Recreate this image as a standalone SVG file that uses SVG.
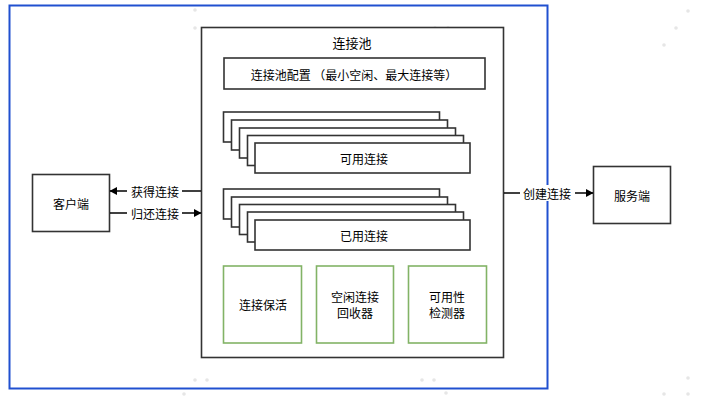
<svg xmlns="http://www.w3.org/2000/svg" width="710" height="408" viewBox="0 0 710 408">
<defs>
<style>
text{font-family:"Noto Sans CJK SC","Noto Sans",sans-serif;font-size:12px;fill:#000;text-anchor:middle;dominant-baseline:central}
.box{fill:#fff;stroke:#333;stroke-width:1.6}
.green{fill:#fff;stroke:#82b366;stroke-width:1.6}
.ln{stroke:#000;stroke-width:1.4;fill:none}
.dot{fill:#e6e6e6}
</style>
<marker id="ah" markerWidth="9" markerHeight="9" refX="7" refY="4.5" orient="auto" markerUnits="userSpaceOnUse">
<path d="M0,0.5 L7.5,4.5 L0,8.5 Z" fill="#000"/>
</marker>
</defs>
<rect width="710" height="408" fill="#fff"/>
<g id="bg-dots">
<circle class="dot" cx="195" cy="10" r="1.8"/><circle class="dot" cx="195" cy="28" r="1.8"/>
<circle class="dot" cx="435" cy="28" r="1.8"/><circle class="dot" cx="448" cy="28" r="1.8"/>
<circle class="dot" cx="208" cy="45" r="1.8"/><circle class="dot" cx="423" cy="45" r="1.8"/>
<circle class="dot" cx="688" cy="11" r="1.8"/><circle class="dot" cx="676" cy="28" r="1.8"/>
<circle class="dot" cx="664" cy="45" r="1.8"/>
<circle class="dot" cx="207" cy="380" r="1.8"/><circle class="dot" cx="195" cy="380" r="1.8"/>
<circle class="dot" cx="422" cy="380" r="1.8"/><circle class="dot" cx="434" cy="380" r="1.8"/>
<circle class="dot" cx="184" cy="394" r="1.8"/><circle class="dot" cx="446" cy="393" r="1.8"/>
<circle class="dot" cx="688" cy="378" r="1.8"/><circle class="dot" cx="664" cy="394" r="1.8"/>
<circle class="dot" cx="688" cy="394" r="1.8"/>
</g>
<g id="outer">
<rect x="9.5" y="5.5" width="538" height="383" fill="none" stroke="#2050d0" stroke-width="2"/>
</g>
<g id="pool">
<rect class="box" x="201.5" y="27.5" width="302" height="330" stroke-width="2"/>
<text x="352" y="42" style="font-size:13px">连接池</text>
</g>
<g id="config">
<rect class="box" x="224" y="58" width="261" height="31"/>
<text x="354" y="74">连接池配置 （最小空闲、最大连接等）</text>
</g>
<g id="available">
<rect class="box" x="223.5" y="112" width="216" height="30"/>
<rect class="box" x="231.5" y="120" width="216" height="30"/>
<rect class="box" x="239.5" y="128" width="216" height="30"/>
<rect class="box" x="247.5" y="135.5" width="216" height="30"/>
<rect class="box" x="255" y="143" width="215" height="30"/>
<text x="364" y="158">可用连接</text>
</g>
<g id="used">
<rect class="box" x="223.5" y="189" width="216" height="30"/>
<rect class="box" x="231.5" y="197" width="216" height="30"/>
<rect class="box" x="239.5" y="204.5" width="216" height="30"/>
<rect class="box" x="247.5" y="212" width="216" height="30"/>
<rect class="box" x="255" y="220" width="215" height="30"/>
<text x="364" y="235">已用连接</text>
</g>
<g id="keepalive">
<rect class="green" x="223.5" y="266" width="78" height="77"/>
<text x="263" y="304">连接保活</text>
</g>
<g id="idle-collector">
<rect class="green" x="316.5" y="266" width="77" height="77"/>
<text x="355" y="296"><tspan x="355" y="296">空闲连接</tspan><tspan x="355" y="312">回收器</tspan></text>
</g>
<g id="checker">
<rect class="green" x="408.5" y="266" width="78" height="77"/>
<text x="447" y="296"><tspan x="447" y="296">可用性</tspan><tspan x="447" y="312">检测器</tspan></text>
</g>
<g id="client">
<rect class="box" x="32.5" y="174.5" width="77" height="57" stroke-width="2"/>
<text x="71" y="203">客户端</text>
</g>
<g id="server">
<rect class="box" x="593.5" y="166.5" width="77" height="57" stroke-width="2"/>
<text x="632" y="195">服务端</text>
</g>
<g id="connectors">
<line class="ln" x1="201" y1="191" x2="110" y2="191" marker-end="url(#ah)"/>
<line class="ln" x1="110" y1="213" x2="201" y2="213" marker-end="url(#ah)"/>
<line class="ln" x1="504" y1="193" x2="593" y2="193" marker-end="url(#ah)"/>
<rect x="127" y="183" width="55" height="16" fill="#fff"/>
<text x="155" y="191">获得连接</text>
<rect x="127" y="205" width="55" height="16" fill="#fff"/>
<text x="155" y="213">归还连接</text>
<rect x="520" y="185" width="55" height="16" fill="#fff"/>
<text x="547" y="193">创建连接</text>
</g>
</svg>
